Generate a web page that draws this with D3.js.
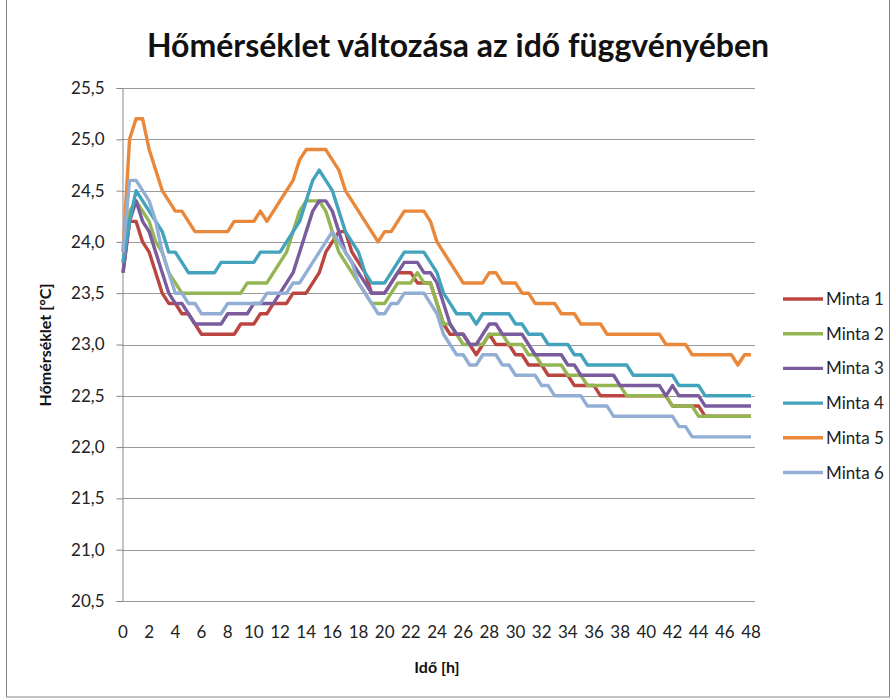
<!DOCTYPE html>
<html>
<head>
<meta charset="utf-8">
<script src="https://cdn.jsdelivr.net/npm/d3@7"></script>
<style>
  body { margin: 0; background: #fff; }
  svg { display: block; font-family: Lato, "Open Sans", sans-serif; }
</style>
</head>
<body>
<svg id="chart" width="895" height="700"></svg>
<script>
// Time points (hours), one every half hour
const hours = [0, 0.5, 1, 1.5, 2, 2.5, 3, 3.5, 4, 4.5, 5, 5.5, 6, 6.5, 7, 7.5, 8, 8.5, 9, 9.5,
    10, 10.5, 11, 11.5, 12, 12.5, 13, 13.5, 14, 14.5, 15, 15.5, 16, 16.5, 17, 17.5, 18, 18.5, 19, 19.5,
    20, 20.5, 21, 21.5, 22, 22.5, 23, 23.5, 24, 24.5, 25, 25.5, 26, 26.5, 27, 27.5, 28, 28.5, 29, 29.5,
    30, 30.5, 31, 31.5, 32, 32.5, 33, 33.5, 34, 34.5, 35, 35.5, 36, 36.5, 37, 37.5, 38, 38.5, 39, 39.5,
    40, 40.5, 41, 41.5, 42, 42.5, 43, 43.5, 44, 44.5, 45, 45.5, 46, 46.5, 47, 47.5, 48];

const minta1 = [23.7, 24.2, 24.2, 24.0, 23.9, 23.7, 23.5, 23.4, 23.4, 23.3,
    23.3, 23.2, 23.1, 23.1, 23.1, 23.1, 23.1, 23.1, 23.2, 23.2,
    23.2, 23.3, 23.3, 23.4, 23.4, 23.4, 23.5, 23.5, 23.5, 23.6,
    23.7, 23.9, 24.0, 24.1, 24.1, 23.9, 23.8, 23.7, 23.5, 23.5,
    23.5, 23.6, 23.7, 23.7, 23.7, 23.6, 23.6, 23.6, 23.4, 23.2,
    23.1, 23.1, 23.1, 23.0, 22.9, 23.0, 23.1, 23.0, 23.0, 23.0,
    22.9, 22.9, 22.8, 22.8, 22.8, 22.7, 22.7, 22.7, 22.7, 22.6,
    22.6, 22.6, 22.6, 22.5, 22.5, 22.5, 22.5, 22.5, 22.5, 22.5,
    22.5, 22.5, 22.5, 22.5, 22.4, 22.4, 22.4, 22.4, 22.4, 22.3,
    22.3, 22.3, 22.3, 22.3, 22.3, 22.3, 22.3];

const minta2 = [23.8, 24.3, 24.4, 24.3, 24.2, 24.0, 23.9, 23.7, 23.6, 23.5,
    23.5, 23.5, 23.5, 23.5, 23.5, 23.5, 23.5, 23.5, 23.5, 23.6,
    23.6, 23.6, 23.6, 23.7, 23.8, 23.9, 24.1, 24.3, 24.4, 24.4,
    24.4, 24.3, 24.1, 23.9, 23.8, 23.7, 23.6, 23.5, 23.4, 23.4,
    23.4, 23.5, 23.6, 23.6, 23.6, 23.7, 23.6, 23.6, 23.4, 23.2,
    23.2, 23.1, 23.0, 23.0, 23.0, 23.0, 23.1, 23.1, 23.1, 23.0,
    23.0, 23.0, 22.9, 22.9, 22.8, 22.8, 22.8, 22.8, 22.7, 22.7,
    22.7, 22.6, 22.6, 22.6, 22.6, 22.6, 22.6, 22.5, 22.5, 22.5,
    22.5, 22.5, 22.5, 22.5, 22.4, 22.4, 22.4, 22.4, 22.3, 22.3,
    22.3, 22.3, 22.3, 22.3, 22.3, 22.3, 22.3];

const minta3 = [23.7, 24.2, 24.4, 24.2, 24.1, 23.9, 23.7, 23.5, 23.4, 23.4,
    23.3, 23.2, 23.2, 23.2, 23.2, 23.2, 23.3, 23.3, 23.3, 23.3,
    23.4, 23.4, 23.4, 23.4, 23.5, 23.6, 23.7, 23.9, 24.1, 24.3,
    24.4, 24.4, 24.3, 24.1, 23.9, 23.8, 23.7, 23.6, 23.5, 23.5,
    23.5, 23.6, 23.7, 23.8, 23.8, 23.8, 23.7, 23.7, 23.6, 23.4,
    23.2, 23.1, 23.1, 23.0, 23.0, 23.1, 23.2, 23.2, 23.1, 23.1,
    23.1, 23.1, 23.0, 22.9, 22.9, 22.9, 22.9, 22.9, 22.8, 22.8,
    22.7, 22.7, 22.7, 22.7, 22.7, 22.7, 22.6, 22.6, 22.6, 22.6,
    22.6, 22.6, 22.6, 22.5, 22.6, 22.5, 22.5, 22.5, 22.5, 22.4,
    22.4, 22.4, 22.4, 22.4, 22.4, 22.4, 22.4];

const minta4 = [23.8, 24.2, 24.5, 24.4, 24.3, 24.2, 24.1, 23.9, 23.9, 23.8,
    23.7, 23.7, 23.7, 23.7, 23.7, 23.8, 23.8, 23.8, 23.8, 23.8,
    23.8, 23.9, 23.9, 23.9, 23.9, 24.0, 24.1, 24.2, 24.4, 24.6,
    24.7, 24.6, 24.5, 24.3, 24.1, 24.0, 23.9, 23.7, 23.6, 23.6,
    23.6, 23.7, 23.8, 23.9, 23.9, 23.9, 23.9, 23.8, 23.7, 23.5,
    23.4, 23.3, 23.3, 23.3, 23.2, 23.3, 23.3, 23.3, 23.3, 23.3,
    23.2, 23.2, 23.1, 23.1, 23.1, 23.0, 23.0, 23.0, 23.0, 22.9,
    22.9, 22.8, 22.8, 22.8, 22.8, 22.8, 22.8, 22.8, 22.7, 22.7,
    22.7, 22.7, 22.7, 22.7, 22.7, 22.6, 22.6, 22.6, 22.6, 22.5,
    22.5, 22.5, 22.5, 22.5, 22.5, 22.5, 22.5];

const minta5 = [23.9, 25.0, 25.2, 25.2, 24.9, 24.7, 24.5, 24.4, 24.3, 24.3,
    24.2, 24.1, 24.1, 24.1, 24.1, 24.1, 24.1, 24.2, 24.2, 24.2,
    24.2, 24.3, 24.2, 24.3, 24.4, 24.5, 24.6, 24.8, 24.9, 24.9,
    24.9, 24.9, 24.8, 24.7, 24.5, 24.4, 24.3, 24.2, 24.1, 24.0,
    24.1, 24.1, 24.2, 24.3, 24.3, 24.3, 24.3, 24.2, 24.0, 23.9,
    23.8, 23.7, 23.6, 23.6, 23.6, 23.6, 23.7, 23.7, 23.6, 23.6,
    23.6, 23.5, 23.5, 23.4, 23.4, 23.4, 23.4, 23.3, 23.3, 23.3,
    23.2, 23.2, 23.2, 23.2, 23.1, 23.1, 23.1, 23.1, 23.1, 23.1,
    23.1, 23.1, 23.1, 23.0, 23.0, 23.0, 23.0, 22.9, 22.9, 22.9,
    22.9, 22.9, 22.9, 22.9, 22.8, 22.9, 22.9];

const minta6 = [23.9, 24.6, 24.6, 24.5, 24.4, 24.2, 23.9, 23.7, 23.5, 23.5,
    23.4, 23.4, 23.3, 23.3, 23.3, 23.3, 23.4, 23.4, 23.4, 23.4,
    23.4, 23.4, 23.5, 23.5, 23.5, 23.5, 23.6, 23.6, 23.7, 23.8,
    23.9, 24.0, 24.1, 24.0, 23.9, 23.8, 23.6, 23.5, 23.4, 23.3,
    23.3, 23.4, 23.4, 23.5, 23.5, 23.5, 23.5, 23.4, 23.3, 23.1,
    23.0, 22.9, 22.9, 22.8, 22.8, 22.9, 22.9, 22.9, 22.8, 22.8,
    22.7, 22.7, 22.7, 22.7, 22.6, 22.6, 22.5, 22.5, 22.5, 22.5,
    22.5, 22.4, 22.4, 22.4, 22.4, 22.3, 22.3, 22.3, 22.3, 22.3,
    22.3, 22.3, 22.3, 22.3, 22.3, 22.2, 22.2, 22.1, 22.1, 22.1,
    22.1, 22.1, 22.1, 22.1, 22.1, 22.1, 22.1];

const seriesNames = ['Minta 1', 'Minta 2', 'Minta 3', 'Minta 4', 'Minta 5', 'Minta 6'];
const seriesColors = ['#BA4541', '#93B552', '#7A5C9E', '#43A3BD', '#E9883B', '#93AED5'];
const xTicks = [0, 2, 4, 6, 8, 10, 12, 14, 16, 18, 20, 22, 24, 26, 28, 30, 32, 34, 36, 38, 40, 42, 44, 46, 48];
const yTicks = [20.5, 21.0, 21.5, 22.0, 22.5, 23.0, 23.5, 24.0, 24.5, 25.0, 25.5];

const allSeries = [minta1, minta2, minta3, minta4, minta5, minta6];

const svg = d3.select('#chart');

// Outer chart border
svg.append('rect')
    .attr('x', 6.5).attr('y', -2)
    .attr('width', 883).attr('height', 699)
    .attr('fill', 'none')
    .attr('stroke', '#868686');

const x = d3.scaleLinear().domain([0, 48]).range([123, 751]);
const y = d3.scaleLinear().domain([20.5, 25.5]).range([601, 88]);

// Horizontal gridlines
svg.append('g')
    .selectAll('line')
    .data(yTicks)
    .enter()
    .append('line')
    .attr('x1', 122).attr('x2', 755)
    .attr('y1', d => Math.round(y(d)) + 0.5)
    .attr('y2', d => Math.round(y(d)) + 0.5)
    .attr('stroke', '#9a9a9a')
    .attr('stroke-width', 1);

// Y axis
const yAxis = svg.append('g')
    .attr('transform', 'translate(122.5,0)')
    .call(d3.axisLeft(y)
        .tickValues(yTicks)
        .tickSize(6)
        .tickPadding(12)
        .tickFormat(d => d.toFixed(1).replace('.', ',')));
yAxis.select('.domain').attr('stroke', '#868686');
yAxis.selectAll('.tick line').attr('stroke', '#868686');
yAxis.selectAll('.tick text')
    .attr('fill', '#222')
    .style('font-size', '17px')
    .style('font-family', 'Lato, sans-serif');

// X tick labels
svg.append('g')
    .selectAll('text')
    .data(xTicks)
    .enter()
    .append('text')
    .attr('x', d => x(d))
    .attr('y', 638)
    .attr('text-anchor', 'middle')
    .attr('fill', '#222')
    .style('font-size', '17px')
    .text(d => d);

// Lines
const line = d3.line()
    .x((d, i) => x(hours[i]))
    .y(d => y(d));

svg.append('g')
    .selectAll('path')
    .data(allSeries)
    .enter()
    .append('path')
    .attr('d', d => line(d))
    .attr('fill', 'none')
    .attr('stroke', (d, i) => seriesColors[i])
    .attr('stroke-width', 3.4)
    .attr('stroke-linejoin', 'round');

// Title
svg.append('text')
    .attr('x', 458)
    .attr('y', 57)
    .attr('text-anchor', 'middle')
    .attr('fill', '#111')
    .style('font-size', '32px')
    .style('font-weight', 'bold')
    .text('Hőmérséklet változása az idő függvényében');

// Axis titles
svg.append('text')
    .attr('transform', 'translate(51,345) rotate(-90)')
    .attr('text-anchor', 'middle')
    .attr('fill', '#111')
    .style('font-size', '16px')
    .style('font-weight', 'bold')
    .text('Hőmérséklet [°C]');

svg.append('text')
    .attr('x', 437)
    .attr('y', 673)
    .attr('text-anchor', 'middle')
    .attr('fill', '#111')
    .style('font-size', '16px')
    .style('font-weight', 'bold')
    .text('Idő [h]');

// Legend
const legend = svg.append('g')
    .selectAll('g')
    .data(seriesNames)
    .enter()
    .append('g')
    .attr('transform', (d, i) => `translate(783,${299 + i * 34.7})`);

legend.append('line')
    .attr('x1', 0).attr('x2', 40)
    .attr('y1', 0).attr('y2', 0)
    .attr('stroke', (d, i) => seriesColors[i])
    .attr('stroke-width', 3.4);

legend.append('text')
    .attr('x', 43)
    .attr('y', 6)
    .attr('fill', '#222')
    .style('font-size', '17px')
    .text(d => d);
</script>
</body>
</html>
